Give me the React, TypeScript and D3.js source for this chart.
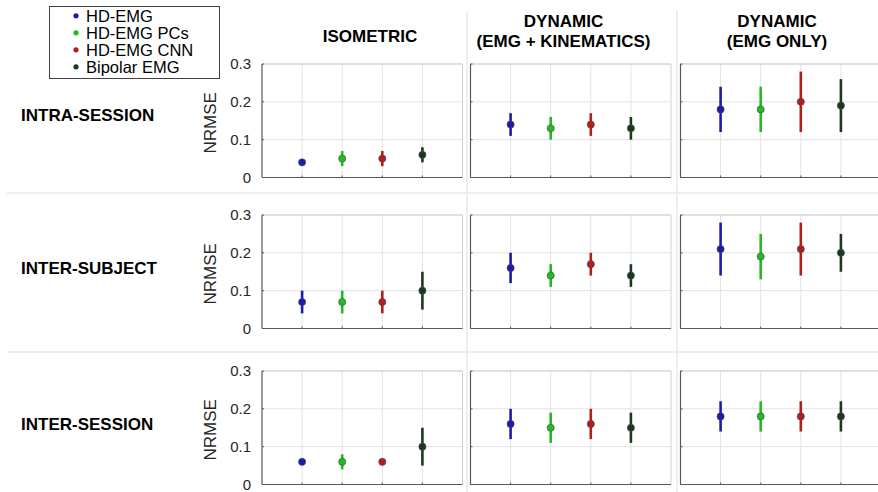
import React from "react";
import * as d3 from "d3";

const seriesNames = ["HD-EMG", "HD-EMG PCs", "HD-EMG CNN", "Bipolar EMG"];
const seriesColors = ["#1c1caa", "#22bb22", "#b01e1e", "#1b3a1b"];
const conditionTitles = [["ISOMETRIC"], ["DYNAMIC", "(EMG + KINEMATICS)"], ["DYNAMIC", "(EMG ONLY)"]];
const sessionLabels = ["INTRA-SESSION", "INTER-SUBJECT", "INTER-SESSION"];
const yTicks = [0, 0.1, 0.2, 0.3];
const xCats = [1, 2, 3, 4];

// mean NRMSE [condition][series]
const intraMean = [[0.04, 0.05, 0.05, 0.06], [0.14, 0.13, 0.14, 0.13], [0.18, 0.18, 0.20, 0.19]];
const intraErr = [[0.005, 0.02, 0.02, 0.02], [0.03, 0.03, 0.03, 0.03], [0.06, 0.06, 0.08, 0.07]];
const subjMean = [[0.07, 0.07, 0.07, 0.10], [0.16, 0.14, 0.17, 0.14], [0.21, 0.19, 0.21, 0.20]];
const subjErr = [[0.03, 0.03, 0.03, 0.05], [0.04, 0.03, 0.03, 0.03], [0.07, 0.06, 0.07, 0.05]];
const sessMean = [[0.06, 0.06, 0.06, 0.10], [0.16, 0.15, 0.16, 0.15], [0.18, 0.18, 0.18, 0.18]];
const sessErr = [[0.005, 0.02, 0.005, 0.05], [0.04, 0.04, 0.04, 0.04], [0.04, 0.04, 0.04, 0.04]];

const rowMeans = [intraMean, subjMean, sessMean];
const rowErrs = [intraErr, subjErr, sessErr];

const W = 878, H = 492;
const panelLeft = [262, 470.5, 680.5];
const panelW = 200.5;
const rowTop = [64, 215, 371];
const panelH = 113.5;
const headerX = [370, 563.5, 777];
const font = "'Liberation Sans', Arial, sans-serif";

function Panel({ r, c }: { r: number; c: number }) {
  const x0 = panelLeft[c], y0 = rowTop[r];
  const x = d3.scaleLinear().domain([0, 5]).range([x0, x0 + panelW]);
  const y = d3.scaleLinear().domain([0, 0.3]).range([y0 + panelH, y0]);
  const means = rowMeans[r][c];
  const errs = rowErrs[r][c];
  return (
    <g>
      {yTicks.map((t) => (
        <line key={"gy" + t} x1={x0} x2={x0 + panelW} y1={y(t)} y2={y(t)} stroke="#e2e2e2" strokeWidth={1} />
      ))}
      {xCats.map((k) => (
        <line key={"gx" + k} x1={x(k)} x2={x(k)} y1={y0} y2={y0 + panelH} stroke="#e2e2e2" strokeWidth={1} />
      ))}
      <line x1={x0} x2={x0 + panelW} y1={y0} y2={y0} stroke="#cfcfcf" strokeWidth={1} />
      <line x1={x0 + panelW} x2={x0 + panelW} y1={y0} y2={y0 + panelH} stroke="#cfcfcf" strokeWidth={1} />
      <line x1={x0} x2={x0} y1={y0} y2={y0 + panelH} stroke="#595959" strokeWidth={1.2} />
      <line x1={x0} x2={x0 + panelW} y1={y0 + panelH} y2={y0 + panelH} stroke="#595959" strokeWidth={1.2} />
      {yTicks.map((t) => (
        <line key={"ty" + t} x1={x0} x2={x0 + 2} y1={y(t)} y2={y(t)} stroke="#595959" strokeWidth={1} />
      ))}
      {xCats.map((k) => (
        <line key={"tx" + k} x1={x(k)} x2={x(k)} y1={y0 + panelH} y2={y0 + panelH - 2} stroke="#595959" strokeWidth={1} />
      ))}
      {c === 0 &&
        yTicks.map((t) => (
          <text key={"lbl" + t} x={x0 - 11} y={y(t)} dy="0.35em" textAnchor="end" fontSize={15} fill="#262626" fontFamily={font}>
            {t === 0 ? "0" : t.toFixed(1)}
          </text>
        ))}
      {c === 0 && (
        <text
          transform={`translate(${x0 - 52},${y0 + panelH / 2 + 2}) rotate(-90)`}
          textAnchor="middle"
          dy="0.35em"
          fontSize={17}
          fill="#262626"
          fontFamily={font}
        >
          NRMSE
        </text>
      )}
      {xCats.map((k, i) => (
        <g key={"pt" + k}>
          <line x1={x(k)} x2={x(k)} y1={y(means[i] - errs[i])} y2={y(means[i] + errs[i])} stroke={seriesColors[i]} strokeWidth={2.6} />
          <circle cx={x(k)} cy={y(means[i])} r={3.6} fill={seriesColors[i]} stroke="#4a4a4a" strokeWidth={0.6} />
        </g>
      ))}
    </g>
  );
}

export default function App() {
  return (
    <div style={{ position: "absolute", left: 0, top: 0, width: W, height: H, overflow: "hidden", background: "#fff" }}>
      <svg width={W} height={H} style={{ display: "block" }}>
        <rect width={W} height={H} fill="#fff" />
        {/* separators */}
        <line x1={7} x2={W} y1={193} y2={193} stroke="#e8e8e8" strokeWidth={1.5} />
        <line x1={7} x2={W} y1={352} y2={352} stroke="#e8e8e8" strokeWidth={1.5} />
        <line x1={467} x2={467} y1={12} y2={H} stroke="#e8e8e8" strokeWidth={1.5} />
        <line x1={677} x2={677} y1={10} y2={H} stroke="#e8e8e8" strokeWidth={1.5} />
        {/* headers */}
        {conditionTitles.map((lines, c) =>
          lines.map((ln, j) => (
            <text
              key={c + "-" + j}
              x={headerX[c]}
              y={lines.length === 1 ? 41.5 : 26.5 + j * 20.8}
              textAnchor="middle"
              fontSize={17}
              fontWeight="bold"
              fill="#000"
              fontFamily={font}
            >
              {ln}
            </text>
          ))
        )}
        {sessionLabels.map((s, r) => (
          <text key={s} x={21} y={[120.5, 274, 430][r]} fontSize={17} fontWeight="bold" fill="#000" fontFamily={font}>
            {s}
          </text>
        ))}
        {[0, 1, 2].map((r) => [0, 1, 2].map((c) => <Panel key={r + "-" + c} r={r} c={c} />))}
        {/* legend */}
        <rect x={49.5} y={6.5} width={170} height={72} fill="#fff" stroke="#404040" strokeWidth={1} />
        {seriesNames.map((n, i) => (
          <g key={n}>
            <circle cx={76} cy={15.8 + i * 17} r={2.6} fill={seriesColors[i]} />
            <text x={86} y={15.8 + i * 17} dy="0.35em" fontSize={16.5} fill="#000" fontFamily={font}>
              {n}
            </text>
          </g>
        ))}
      </svg>
    </div>
  );
}
